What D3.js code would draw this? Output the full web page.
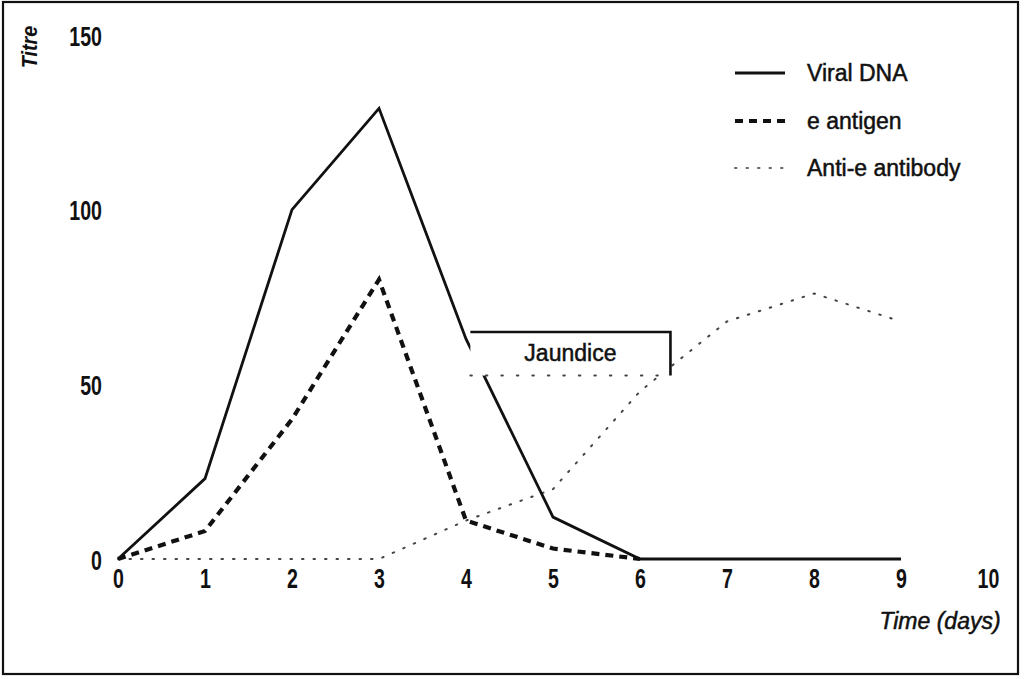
<!DOCTYPE html>
<html><head><meta charset="utf-8">
<script src="https://cdn.jsdelivr.net/npm/d3@7"></script>
<style>
html,body{margin:0;padding:0;background:#fff;}
svg{display:block;}
</style></head>
<body>
<svg id="c" width="1024" height="679"></svg>
<script>
const days = [0,1,2,3,4,5,6,7,8,9];
const viralDNA = [0,23,100,129,63,12,0,0,0,0];
const eAntigen = [0,8,40,80,11,3,0,null,null,null];
const antiE = [0,0,0,0,11,20,48,68,76,68];
const xTicks = [0,1,2,3,4,5,6,7,8,9,10];
const yTicks = [0,50,100,150];
const seriesNames = ["Viral DNA","e antigen","Anti-e antibody"];

const svg = d3.select("#c");
const x = d3.scaleLinear().domain([0,10]).range([118,988]);
const y = d3.scaleLinear().domain([0,150]).range([559,35]);

const font = "'Liberation Sans','Arial',sans-serif";

// frame
svg.append("rect").attr("x",3).attr("y",2).attr("width",1015).attr("height",672)
  .attr("fill","none").attr("stroke","#111").attr("stroke-width",2.2);

// x tick labels
const xAxis = d3.axisBottom(x).tickValues(xTicks).tickSize(0).tickPadding(0).tickFormat(d3.format("d"));
const gx = svg.append("g").attr("transform","translate(0,568)").call(xAxis);
gx.select(".domain").remove();
gx.selectAll("text").attr("font-family",font).attr("font-weight","bold").attr("font-size",28).attr("fill","#111")
  .attr("dy","0.71em").attr("transform","scale(0.7,1)");

// y tick labels
const yAxis = d3.axisLeft(y).tickValues(yTicks).tickSize(0).tickPadding(0).tickFormat(d3.format("d"));
const gy = svg.append("g").attr("transform","translate(102,0)").call(yAxis);
gy.select(".domain").remove();
gy.selectAll("text").attr("font-family",font).attr("font-weight","bold").attr("font-size",28).attr("fill","#111")
  .attr("dy","0.36em").attr("transform","scale(0.7,1)");

// axis titles
svg.append("text").attr("transform","translate(37,47) rotate(-90) scale(0.9,1)").attr("text-anchor","middle")
  .attr("font-family",font).attr("font-style","italic").attr("font-weight","bold").attr("font-size",22).attr("fill","#111").text("Titre");
svg.append("text").attr("x",940).attr("y",629).attr("text-anchor","middle")
  .attr("font-family",font).attr("font-style","italic").attr("font-size",23).attr("fill","#111")
  .attr("stroke","#111").attr("stroke-width",0.5).text("Time (days)");

const line = d3.line().defined(d=>d[1]!==null).x(d=>x(d[0])).y(d=>y(d[1]));

// anti-e antibody (dotted, faint)
svg.append("path").datum(days.map((d,i)=>[d,antiE[i]])).attr("d",line)
  .attr("fill","none").attr("stroke","#444").attr("stroke-width",2).attr("stroke-dasharray","1.5,10")
  .attr("stroke-linecap","round");

// e antigen
svg.append("path").datum(days.map((d,i)=>[d,eAntigen[i]])).attr("d",line)
  .attr("fill","none").attr("stroke","#111").attr("stroke-width",4.2).attr("stroke-dasharray","8,6");

// viral DNA
svg.append("path").datum(days.map((d,i)=>[d,viralDNA[i]])).attr("d",line)
  .attr("fill","none").attr("stroke","#111").attr("stroke-width",2.8).attr("stroke-linejoin","miter");

// Jaundice box
const jb = {x0:4.05, x1:6.35, yTop:65, yBot:52.5};
svg.append("rect").attr("x",x(jb.x0)).attr("y",y(jb.yTop)).attr("width",x(jb.x1)-x(jb.x0)).attr("height",y(jb.yBot)-y(jb.yTop))
  .attr("fill","#fff").attr("stroke","none");
svg.append("path").attr("d",`M${x(jb.x0)},${y(jb.yTop)}H${x(jb.x1)}V${y(jb.yBot)}`)
  .attr("fill","none").attr("stroke","#111").attr("stroke-width",2.6);
svg.append("path").attr("d",`M${x(jb.x0)},${y(jb.yBot)}H${x(jb.x1)}`)
  .attr("fill","none").attr("stroke","#444").attr("stroke-width",2).attr("stroke-dasharray","1.5,14")
  .attr("stroke-linecap","round");
svg.append("text").attr("x",(x(jb.x0)+x(jb.x1))/2).attr("y",y(59)).attr("dy","0.35em").attr("text-anchor","middle")
  .attr("font-family",font).attr("font-size",23).attr("fill","#111")
  .attr("stroke","#111").attr("stroke-width",0.5).text("Jaundice");

// legend
const legY = [73,121,168];
const legStyles = [
  {w:2.8,dash:null,c:"#111"},
  {w:4.2,dash:"8,6",c:"#111"},
  {w:2,dash:"1.5,10",c:"#666"}
];
const lg = svg.append("g");
seriesNames.forEach((n,i)=>{
  lg.append("line").attr("x1",735).attr("x2",785).attr("y1",legY[i]).attr("y2",legY[i])
    .attr("stroke",legStyles[i].c).attr("stroke-width",legStyles[i].w)
    .attr("stroke-dasharray",legStyles[i].dash).attr("stroke-linecap", i===2?"round":"butt");
  lg.append("text").attr("x",807).attr("y",legY[i]).attr("dy","0.35em")
    .attr("font-family",font).attr("font-size",23).attr("fill","#111")
    .attr("stroke","#111").attr("stroke-width",0.5).text(n);
});
</script>
</body></html>
